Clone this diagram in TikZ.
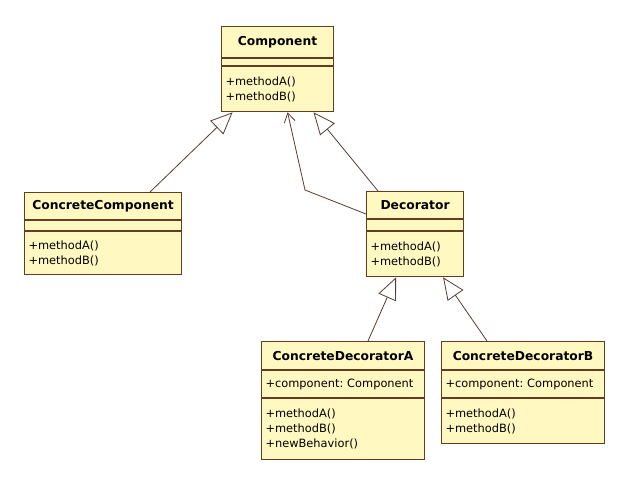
\documentclass[tikz,border=0pt]{standalone}
\usepackage{fontspec}
\setmainfont{DejaVu Sans}
\usetikzlibrary{arrows.meta}
\frenchspacing
\definecolor{umlfill}{RGB}{255,248,192}
\definecolor{umlline}{RGB}{100,60,30}
\definecolor{umlarrow}{RGB}{85,60,50}
\tikzset{
	umltitle/.style={draw=umlline, fill=umlfill, line width=1.1pt, inner sep=0pt, font=\fontsize{12.3}{15}\selectfont\bfseries},
	umlpart/.style={draw=umlline, fill=umlfill, line width=1.1pt, inner xsep=4pt, inner ysep=0pt, align=left, font=\fontsize{11.4}{15}\selectfont},
	extends/.style={draw=umlarrow, line width=0.8pt, -{Triangle[open,length=22pt,width=19pt,fill=white]}},
	uses/.style={draw=umlarrow, line width=0.8pt, -{Straight Barb[length=9pt,width=11pt]}}
}

\begin{document}
\begin{tikzpicture}[x=1pt,y=-1pt]
		%%%%% START %%%%%
		\useasboundingbox (0,0) rectangle (630,483);
		
		% Component
		\node[umltitle, anchor=north west, minimum width=112pt, minimum height=31pt] (comp) at (221,26) {Component};
		\node[umlpart, anchor=north, minimum width=112pt, minimum height=7pt] (comp-a) at (comp.south) {};
		\node[umlpart, anchor=north, text width=104pt, minimum height=45pt] (comp-m) at (comp-a.south) {+methodA()\\+methodB()};
		
		% ConcreteComponent
		\node[umltitle, anchor=north west, minimum width=157pt, minimum height=27pt] (cc) at (24,192) {ConcreteComponent};
		\node[umlpart, anchor=north, minimum width=157pt, minimum height=10pt] (cc-a) at (cc.south) {};
		\node[umlpart, anchor=north, text width=149pt, minimum height=43pt] (cc-m) at (cc-a.south) {+methodA()\\+methodB()};
		
		% Decorator
		\node[umltitle, anchor=north west, minimum width=97pt, minimum height=27pt] (dec) at (366,191) {Decorator};
		\node[umlpart, anchor=north, minimum width=97pt, minimum height=11pt] (dec-a) at (dec.south) {};
		\node[umlpart, anchor=north, text width=89pt, minimum height=45pt] (dec-m) at (dec-a.south) {+methodA()\\+methodB()};
		
		% ConcreteDecoratorA
		\node[umltitle, anchor=north west, minimum width=163pt, minimum height=28pt] (cda) at (261,341) {ConcreteDecoratorA};
		\node[umlpart, anchor=north, text width=155pt, minimum height=27pt] (cda-a) at (cda.south) {+component: Component};
		\node[umlpart, anchor=north, text width=155pt, minimum height=61pt] (cda-m) at (cda-a.south) {+methodA()\\+methodB()\\+newBehavior()};
		
		% ConcreteDecoratorB
		\node[umltitle, anchor=north west, minimum width=163pt, minimum height=28pt] (cdb) at (441,341) {ConcreteDecoratorB};
		\node[umlpart, anchor=north, text width=155pt, minimum height=27pt] (cdb-a) at (cdb.south) {+component: Component};
		\node[umlpart, anchor=north, text width=155pt, minimum height=45pt] (cdb-m) at (cdb-a.south) {+methodA()\\+methodB()};
		
		% connectors
		\coordinate (bend) at (305,190);
		\draw[extends] ([xshift=126pt]cc.north west) -- ([xshift=-45pt]comp-m.south);
		\draw[extends] ([xshift=12pt]dec.north west) -- ([xshift=36pt]comp-m.south);
		\draw[uses] ([yshift=-23pt]dec.north west) -- (bend) -- ([xshift=10pt]comp-m.south);
		\draw[extends] ([xshift=107pt]cda.north west) -- ([xshift=-19pt]dec-m.south);
		\draw[extends] ([xshift=46pt]cdb.north west) -- ([xshift=28pt]dec-m.south);
		
		%%%%% END %%%%%
	\end{tikzpicture}
\end{document}
